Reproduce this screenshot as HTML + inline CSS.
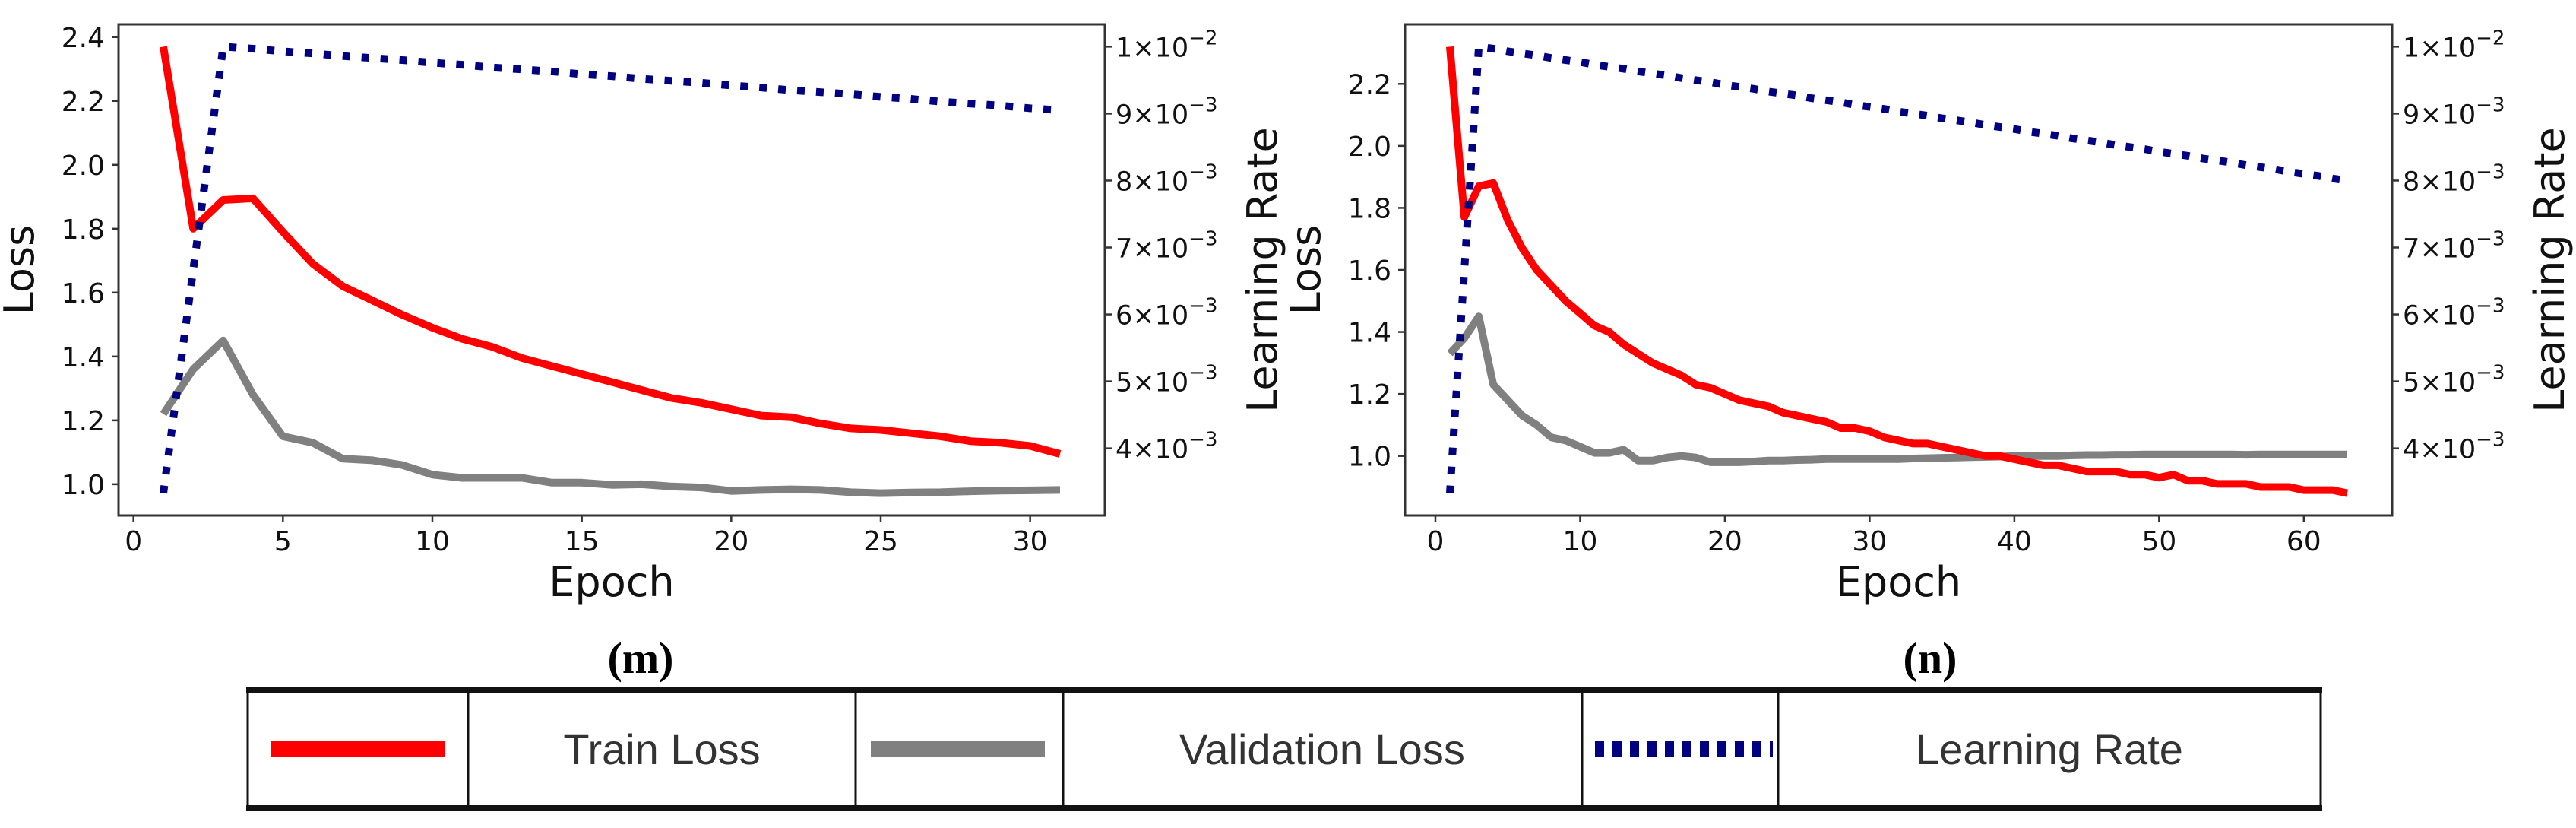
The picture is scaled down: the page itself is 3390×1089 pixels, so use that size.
<!DOCTYPE html>
<html><head><meta charset="utf-8"><style>
html,body{margin:0;padding:0;background:#fff;}
svg{display:block;}
</style></head><body>
<svg id="fig" width="3390" height="1089" viewBox="0 0 3390 1089" xmlns="http://www.w3.org/2000/svg">
  <g id="chartM"></g>
  <g id="chartN"></g>
  <text x="843" y="885" text-anchor="middle" font-family="'Liberation Serif', serif" font-weight="bold" font-size="58">(m)</text>
  <text x="2540" y="885" text-anchor="middle" font-family="'Liberation Serif', serif" font-weight="bold" font-size="58">(n)</text>
  <g>
    <rect x="326" y="908" width="2728" height="154" fill="#fff" stroke="#111" stroke-width="3"/>
    <line x1="324" y1="907" x2="3056" y2="907" stroke="#111" stroke-width="8"/>
    <line x1="324" y1="1063" x2="3056" y2="1063" stroke="#111" stroke-width="8"/>
    <line x1="616" y1="905" x2="616" y2="1065" stroke="#111" stroke-width="3"/>
    <line x1="1126" y1="905" x2="1126" y2="1065" stroke="#111" stroke-width="3"/>
    <line x1="1399" y1="905" x2="1399" y2="1065" stroke="#111" stroke-width="3"/>
    <line x1="2082" y1="905" x2="2082" y2="1065" stroke="#111" stroke-width="3"/>
    <line x1="2340" y1="905" x2="2340" y2="1065" stroke="#111" stroke-width="3"/>
    <line x1="357" y1="985" x2="586" y2="985" stroke="#ff0000" stroke-width="20"/>
    <line x1="1146" y1="985" x2="1375" y2="985" stroke="#808080" stroke-width="20"/>
    <line x1="2099" y1="985" x2="2333" y2="985" stroke="#000080" stroke-width="20" stroke-dasharray="12 11"/>
    <text x="871" y="1005" text-anchor="middle" font-family="'Liberation Sans', sans-serif" font-size="56" fill="#333">Train Loss</text>
    <text x="1740" y="1005" text-anchor="middle" font-family="'Liberation Sans', sans-serif" font-size="56" fill="#333">Validation Loss</text>
    <text x="2697" y="1005" text-anchor="middle" font-family="'Liberation Sans', sans-serif" font-size="56" fill="#333">Learning Rate</text>
  </g>
</svg>
<script>
// ---- data: chart (m) ----
const epochsM = [1,2,3,4,5,6,7,8,9,10,11,12,13,14,15,16,17,18,19,20,21,22,23,24,25,26,27,28,29,30,31];
const trainM = [2.37,1.80,1.89,1.895,1.79,1.69,1.62,1.575,1.53,1.49,1.455,1.43,1.395,1.37,1.345,1.32,1.295,1.27,1.255,1.235,1.215,1.21,1.19,1.175,1.17,1.16,1.15,1.135,1.13,1.12,1.095];
const valM = [1.22,1.36,1.45,1.28,1.15,1.13,1.08,1.075,1.06,1.03,1.02,1.02,1.02,1.005,1.005,0.998,1.0,0.993,0.99,0.979,0.982,0.984,0.982,0.975,0.972,0.974,0.975,0.978,0.98,0.981,0.982];
const lrM = [0.00333,0.00667,0.01,0.00997,0.00993,0.0099,0.00986,0.00983,0.0098,0.00976,0.00973,0.00969,0.00966,0.00963,0.00959,0.00956,0.00952,0.00949,0.00946,0.00942,0.00939,0.00935,0.00932,0.00929,0.00925,0.00922,0.00918,0.00915,0.00912,0.00908,0.00905];
const xTicksM = [0,5,10,15,20,25,30];
const lossTicksM = [1.0,1.2,1.4,1.6,1.8,2.0,2.2,2.4];
// ---- data: chart (n) ----
const epochsN = [1,2,3,4,5,6,7,8,9,10,11,12,13,14,15,16,17,18,19,20,21,22,23,24,25,26,27,28,29,30,31,32,33,34,35,36,37,38,39,40,41,42,43,44,45,46,47,48,49,50,51,52,53,54,55,56,57,58,59,60,61,62,63];
const trainN = [2.32,1.77,1.87,1.88,1.76,1.67,1.60,1.55,1.50,1.46,1.42,1.40,1.36,1.33,1.30,1.28,1.26,1.23,1.22,1.20,1.18,1.17,1.16,1.14,1.13,1.12,1.11,1.09,1.09,1.08,1.06,1.05,1.04,1.04,1.03,1.02,1.01,1.00,1.00,0.99,0.98,0.97,0.97,0.96,0.95,0.95,0.95,0.94,0.94,0.93,0.94,0.92,0.92,0.91,0.91,0.91,0.90,0.90,0.90,0.89,0.89,0.89,0.88];
const valN = [1.33,1.38,1.45,1.23,1.18,1.13,1.10,1.06,1.05,1.03,1.01,1.01,1.02,0.985,0.985,0.995,1.0,0.995,0.98,0.98,0.98,0.982,0.985,0.985,0.987,0.988,0.99,0.99,0.99,0.99,0.99,0.99,0.992,0.993,0.994,0.995,0.996,0.997,0.998,1.0,1.0,1.0,1.0,1.002,1.003,1.003,1.004,1.004,1.005,1.005,1.005,1.005,1.005,1.005,1.005,1.004,1.005,1.005,1.005,1.005,1.005,1.005,1.005];
const lrN = [0.00333,0.00667,0.01,0.00997,0.00993,0.0099,0.00987,0.00983,0.0098,0.00977,0.00973,0.0097,0.00967,0.00963,0.0096,0.00957,0.00953,0.0095,0.00947,0.00943,0.0094,0.00937,0.00933,0.0093,0.00927,0.00923,0.0092,0.00917,0.00913,0.0091,0.00907,0.00903,0.009,0.00897,0.00893,0.0089,0.00887,0.00883,0.0088,0.00877,0.00873,0.0087,0.00867,0.00863,0.0086,0.00857,0.00853,0.0085,0.00847,0.00843,0.0084,0.00837,0.00833,0.0083,0.00827,0.00823,0.0082,0.00817,0.00813,0.0081,0.00807,0.00803,0.008];
const xTicksN = [0,10,20,30,40,50,60];
const lossTicksN = [1.0,1.2,1.4,1.6,1.8,2.0,2.2];
const lrTickMant = [1,9,8,7,6,5,4];
const lrTickExp = [-2,-3,-3,-3,-3,-3,-3];

const NS = 'http://www.w3.org/2000/svg';
function mk(parent, tag, attrs){
  const e = document.createElementNS(NS, tag);
  for (const k in attrs) e.setAttribute(k, attrs[k]);
  parent.appendChild(e); return e;
}
function range(arr){ let mn=Math.min(...arr), mx=Math.max(...arr); const m=(mx-mn)*0.05; return [mn-m, mx+m]; }

function drawChart(g, box, epochs, train, val, lr, xTicks, lossTicks){
  const {L,R,T,B} = box;
  const xr = range(epochs);
  const lr_ = range(train.concat(val));
  const rr = range(lr);
  const X = v => L + (v - xr[0])/(xr[1]-xr[0])*(R-L);
  const Y = v => B - (v - lr_[0])/(lr_[1]-lr_[0])*(B-T);
  const Y2 = v => B - (v - rr[0])/(rr[1]-rr[0])*(B-T);
  const font = "'DejaVu Sans', 'Liberation Sans', sans-serif";

  const pts = (ys, f) => epochs.map((e,i)=>X(e).toFixed(1)+','+f(ys[i]).toFixed(1)).join(' ');
  const pv = mk(g,'polyline',{points:pts(val,Y),fill:'none',stroke:'#808080','stroke-width':10,'stroke-linejoin':'round'});
  
  
  const pt = mk(g,'polyline',{points:pts(train,Y),fill:'none',stroke:'#ff0000','stroke-width':10,'stroke-linejoin':'round'});
  
  
  const pl = mk(g,'polyline',{points:pts(lr,Y2),fill:'none',stroke:'#000080','stroke-width':10,'stroke-dasharray':'10 15'});
  
  

  const fr = mk(g,'rect',{x:L,y:T,width:R-L,height:B-T,fill:'none',stroke:'#333','stroke-width':3});
  
  

  xTicks.forEach(t=>{
    const x = X(t);
    mk(g,'line',{x1:x,y1:B,x2:x,y2:B+9,stroke:'#333','stroke-width':2.5});
    const tx = mk(g,'text',{x:x,y:B+46,'text-anchor':'middle','font-family':font,'font-size':36,fill:'#111'});
    tx.textContent = t;
    
    
  });
  lossTicks.forEach(t=>{
    const y = Y(t);
    mk(g,'line',{x1:L-9,y1:y,x2:L,y2:y,stroke:'#333','stroke-width':2.5});
    const tx = mk(g,'text',{x:L-18,y:y+13,'text-anchor':'end','font-family':font,'font-size':36,fill:'#111'});
    tx.textContent = t.toFixed(1);
    
    
  });
  lrTickMant.forEach((m,i)=>{
    const v = m*Math.pow(10,lrTickExp[i]);
    const y = Y2(v);
    mk(g,'line',{x1:R,y1:y,x2:R+9,y2:y,stroke:'#333','stroke-width':2.5});
    const tx = mk(g,'text',{x:R+14,y:y+13,'font-family':font,'font-size':35,fill:'#111'});
    
    
    const a = mk(tx,'tspan',{}); a.textContent = m + '×10';
    const b = mk(tx,'tspan',{dy:-16,'font-size':26}); b.textContent = '−' + Math.abs(lrTickExp[i]);
  });
  const cy = (T+B)/2;
  const yl = mk(g,'text',{x:0,y:0,transform:`translate(${L-112},${cy}) rotate(-90)`,'text-anchor':'middle','font-family':font,'font-size':54,fill:'#111'});
  yl.textContent = 'Loss';
  
  
  const yr = mk(g,'text',{x:0,y:0,transform:`translate(${R+226},${cy}) rotate(-90)`,'text-anchor':'middle','font-family':font,'font-size':54,fill:'#111'});
  yr.textContent = 'Learning Rate';
  
  
  const xl = mk(g,'text',{x:(L+R)/2,y:B+106,'text-anchor':'middle','font-family':font,'font-size':54,fill:'#111'});
  xl.textContent = 'Epoch';
  
  
}

drawChart(document.getElementById('chartM'), {L:156,R:1454,T:32,B:678}, epochsM, trainM, valM, lrM, xTicksM, lossTicksM);
drawChart(document.getElementById('chartN'), {L:1849,R:3148,T:32,B:678}, epochsN, trainN, valN, lrN, xTicksN, lossTicksN);
</script>
</body></html>
